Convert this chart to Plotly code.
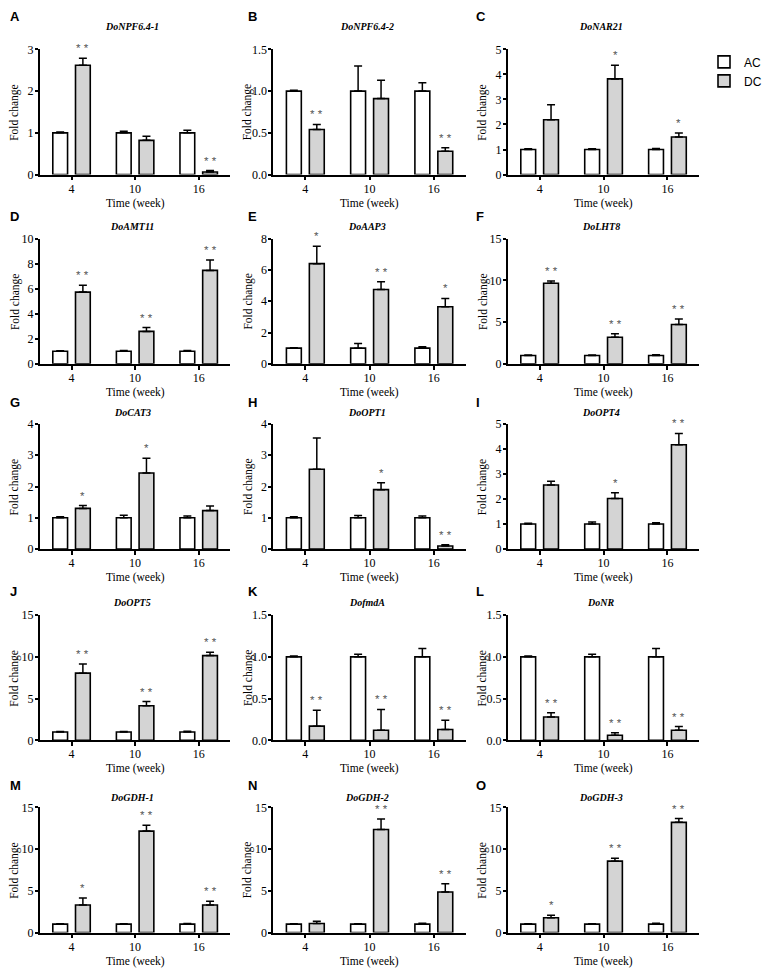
import plotly.graph_objects as go

# ---------------- data ----------------
times = ["4", "10", "16"]
panel_letters = ["A", "B", "C", "D", "E", "F", "G", "H", "I", "J", "K", "L", "M", "N", "O"]
genes = ["DoNPF6.4-1", "DoNPF6.4-2", "DoNAR21", "DoAMT11", "DoAAP3", "DoLHT8",
         "DoCAT3", "DoOPT1", "DoOPT4", "DoOPT5", "DofmdA", "DoNR",
         "DoGDH-1", "DoGDH-2", "DoGDH-3"]

ac_mean = [[1, 1, 1]] * 15
ac_err = [
    [0.02, 0.04, 0.06], [0.01, 0.30, 0.10], [0.03, 0.03, 0.04],
    [0.05, 0.06, 0.06], [0.03, 0.30, 0.09], [0.06, 0.06, 0.10],
    [0.03, 0.08, 0.06], [0.03, 0.07, 0.06], [0.03, 0.08, 0.05],
    [0.05, 0.05, 0.08], [0.01, 0.03, 0.10], [0.01, 0.03, 0.10],
    [0.06, 0.06, 0.08], [0.05, 0.05, 0.10], [0.05, 0.05, 0.10],
]
dc_mean = [
    [2.62, 0.82, 0.06], [0.54, 0.91, 0.28], [2.19, 3.82, 1.50],
    [5.73, 2.59, 7.46], [6.40, 4.75, 3.65], [9.65, 3.18, 4.71],
    [1.30, 2.43, 1.23], [2.55, 1.90, 0.10], [2.56, 2.02, 4.17],
    [8.05, 4.15, 10.15], [0.17, 0.12, 0.13], [0.28, 0.06, 0.12],
    [3.30, 12.15, 3.30], [1.08, 12.35, 4.85], [1.77, 8.55, 13.20],
]
dc_err = [
    [0.17, 0.10, 0.035], [0.06, 0.22, 0.04], [0.60, 0.55, 0.16],
    [0.55, 0.31, 0.84], [1.12, 0.49, 0.53], [0.27, 0.43, 0.67],
    [0.09, 0.47, 0.15], [1.00, 0.22, 0.04], [0.15, 0.23, 0.45],
    [1.10, 0.50, 0.40], [0.19, 0.25, 0.11], [0.05, 0.03, 0.045],
    [0.85, 0.70, 0.45], [0.27, 1.25, 1.00], [0.30, 0.35, 0.45],
]
significance = [
    ["**", "", "**"], ["**", "", "**"], ["", "*", "*"],
    ["**", "**", "**"], ["*", "**", "*"], ["**", "**", "**"],
    ["*", "*", ""], ["", "*", "**"], ["", "*", "**"],
    ["**", "**", "**"], ["**", "**", "**"], ["**", "**", "**"],
    ["*", "**", "**"], ["", "**", "**"], ["*", "**", "**"],
]
y_max = [3, 1.5, 5, 10, 8, 15, 4, 4, 5, 15, 1.5, 1.5, 15, 15, 15]
y_step = [1, 0.5, 1, 2, 2, 5, 1, 1, 1, 5, 0.5, 0.5, 5, 5, 5]
series_names = ["AC", "DC"]

# ---------------- layout geometry (pixels) ----------------
W, H = 767, 975
col_x = [(40, 232), (275, 469), (511, 704)]
row_top = [43, 235, 423, 617, 812]
plot_h = 127
title_y = [20, 223, 411, 604, 802]
letter_y = [10, 213, 401, 593, 790]
letter_x = [8, 248, 477]
BARGAP = 0.286
GROUPGAP = 0.35
FILL = ["#ffffff", "#d4d4d4"]
SERIF = "Liberation Serif, Times New Roman, Times, serif"
SANS = "Liberation Sans, Arial, Helvetica, sans-serif"

def px_x(p):
    return p / W

def px_y(p):
    return 1 - p / H

fig = go.Figure()
annotations = []
layout_axes = {}

for i in range(15):
    n = i + 1
    r, c = divmod(i, 3)
    x0, x1 = col_x[c]
    yt = row_top[r]
    yb = yt + plot_h
    xs = "" if n == 1 else str(n)
    xref, yref = "x" + xs, "y" + xs

    for s, (means, errs) in enumerate([(ac_mean[i], ac_err[i]), (dc_mean[i], dc_err[i])]):
        fig.add_trace(go.Bar(
            x=times, y=means, name=series_names[s],
            marker=dict(color=FILL[s], line=dict(color="black", width=1.6)),
            error_y=dict(type="data", array=errs, arrayminus=[0, 0, 0], symmetric=False,
                         color="black", thickness=1.5, width=4),
            xaxis=xref, yaxis=yref, showlegend=(i == 0), legendgroup=series_names[s],
            hoverinfo="skip",
        ))

    tick_fmt = ".1f" if y_step[i] < 1 else "d"
    layout_axes["xaxis" + xs] = dict(
        domain=[px_x(x0), px_x(x1)], anchor=yref, type="category",
        range=[-0.5, 2.5], autorange=False,
        showline=True, linecolor="black", linewidth=1.5,
        ticks="outside", ticklen=4, tickwidth=1.5, tickcolor="black",
        ticklabelstandoff=-2,
        tickfont=dict(family=SERIF, size=12, color="black"),
        showgrid=False, zeroline=False, fixedrange=True,
    )
    layout_axes["yaxis" + xs] = dict(
        domain=[px_y(yb), px_y(yt)], anchor=xref,
        range=[0, y_max[i]], autorange=False, dtick=y_step[i], tick0=0, tickformat=tick_fmt,
        showline=True, linecolor="black", linewidth=1.5,
        ticks="outside", ticklen=3, tickwidth=1.5, tickcolor="black",
        ticklabelstandoff=-1,
        tickfont=dict(family=SERIF, size=12, color="black"),
        showgrid=False, zeroline=False, fixedrange=True,
    )

    # significance marks over DC bars (category index positions)
    slot_px = (x1 - x0) / 3 * (1 - BARGAP) / 2
    for j in range(3):
        if significance[i][j]:
            annotations.append(dict(
                x=j, y=dc_mean[i][j] + dc_err[i][j], xref=xref, yref=yref,
                text=significance[i][j].replace("**", "* *"), showarrow=False,
                xshift=slot_px / 2, yshift=2, yanchor="bottom",
                font=dict(family=SANS, size=11.5, color="#555555"),
            ))

    cx = (x0 + x1) / 2
    # gene title
    annotations.append(dict(
        x=px_x(cx - 3), y=px_y(title_y[r]), xref="paper", yref="paper",
        text="<b><i>" + genes[i] + "</i></b>", showarrow=False,
        xanchor="center", yanchor="middle",
        font=dict(family=SERIF, size=10, color="black"),
    ))
    # panel letter
    annotations.append(dict(
        x=px_x(letter_x[c]), y=px_y(letter_y[r]), xref="paper", yref="paper",
        text="<b>" + panel_letters[i] + "</b>", showarrow=False,
        xanchor="left", yanchor="middle",
        font=dict(family=SANS, size=13, color="black"),
    ))
    # x axis title
    annotations.append(dict(
        x=px_x(cx), y=px_y(yb + 29), xref="paper", yref="paper",
        text="Time (week)", showarrow=False, xanchor="center", yanchor="middle",
        font=dict(family=SERIF, size=11.5, color="black"),
    ))
    # y axis title
    annotations.append(dict(
        x=px_x(x0 - 25), y=px_y((yt + yb) / 2), xref="paper", yref="paper",
        text="Fold change", showarrow=False, textangle=-90,
        xanchor="center", yanchor="middle",
        font=dict(family=SERIF, size=11.5, color="black"),
    ))

fig.update_layout(
    width=W, height=H,
    margin=dict(l=0, r=0, t=0, b=0),
    paper_bgcolor="white", plot_bgcolor="white",
    barmode="group", bargap=BARGAP, bargroupgap=GROUPGAP,
    font=dict(family=SERIF, color="black"),
    showlegend=True,
    legend=dict(x=px_x(709), y=px_y(41), xanchor="left", yanchor="top",
                font=dict(family=SANS, size=12, color="black"),
                bgcolor="rgba(0,0,0,0)", tracegroupgap=0, itemwidth=30),
    annotations=annotations,
    **layout_axes,
)

fig.write_html("out.html", config={"displayModeBar": False},
               post_script="document.body.style.margin='0px';")
